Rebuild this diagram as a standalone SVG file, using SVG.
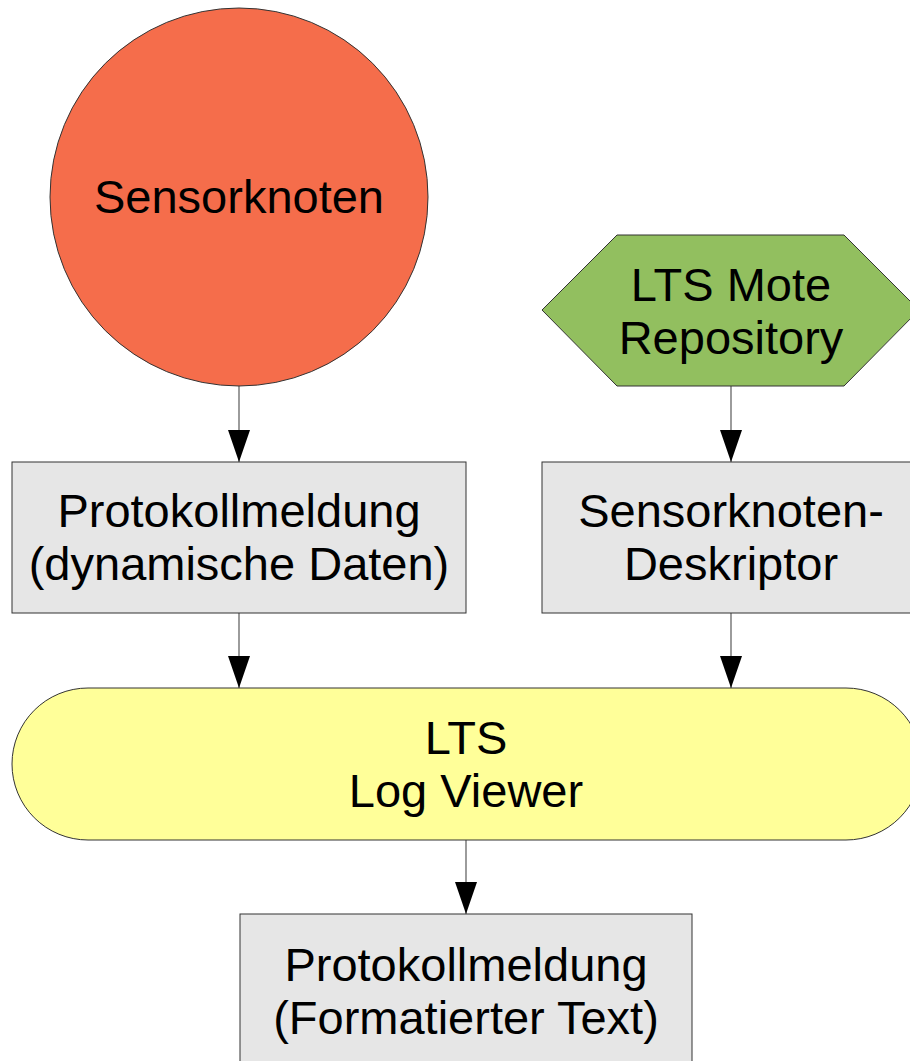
<svg xmlns="http://www.w3.org/2000/svg" width="910" height="1061" viewBox="0 0 910 1061">
<defs>
<style>
text{font-family:"Liberation Sans",Arial,sans-serif;font-size:47px;fill:#000;text-anchor:middle}
.shape{stroke:#333;stroke-width:1}
.box{fill:#e6e6e6}
.conn{stroke:#666;stroke-width:1.3;fill:none;marker-end:url(#arrow)}
</style>
<marker id="arrow" markerUnits="userSpaceOnUse" viewBox="0 -11 32 22" markerWidth="32" markerHeight="22" refX="32" refY="0" orient="auto">
<path d="M0,-11 L32,0 L0,11 z" fill="#000"/>
</marker>
</defs>
<rect width="910" height="1061" fill="#fff"/>
<g id="connectors">
<line class="conn" x1="239" y1="386" x2="239" y2="462"/>
<line class="conn" x1="731" y1="386" x2="731" y2="462"/>
<line class="conn" x1="239" y1="613" x2="239" y2="688"/>
<line class="conn" x1="731" y1="613" x2="731" y2="688"/>
<line class="conn" x1="466" y1="840" x2="466" y2="914"/>
</g>
<g id="sensorknoten">
<circle class="shape" cx="239" cy="197" r="189" fill="#f56d4b"/>
<text x="239" y="213">Sensorknoten</text>
</g>
<g id="repository">
<polygon class="shape" points="542,310 617,235 844,235 919,310 844,386 617,386" fill="#92bf5f"/>
<text x="731" y="301">LTS Mote</text>
<text x="731" y="354">Repository</text>
</g>
<g id="protokoll-dyn">
<rect class="shape box" x="12" y="462" width="454" height="151"/>
<text x="239" y="527">Protokollmeldung</text>
<text x="239" y="580">(dynamische Daten)</text>
</g>
<g id="deskriptor">
<rect class="shape box" x="542" y="462" width="378" height="151"/>
<text x="731" y="527">Sensorknoten-</text>
<text x="731" y="580">Deskriptor</text>
</g>
<g id="logviewer">
<rect class="shape" x="12" y="688" width="910" height="152" rx="76" ry="76" fill="#ffff99"/>
<text x="466" y="754">LTS</text>
<text x="466" y="807">Log Viewer</text>
</g>
<g id="protokoll-fmt">
<rect class="shape box" x="240" y="914" width="452" height="160"/>
<text x="466" y="981">Protokollmeldung</text>
<text x="466" y="1034">(Formatierter Text)</text>
</g>
</svg>
